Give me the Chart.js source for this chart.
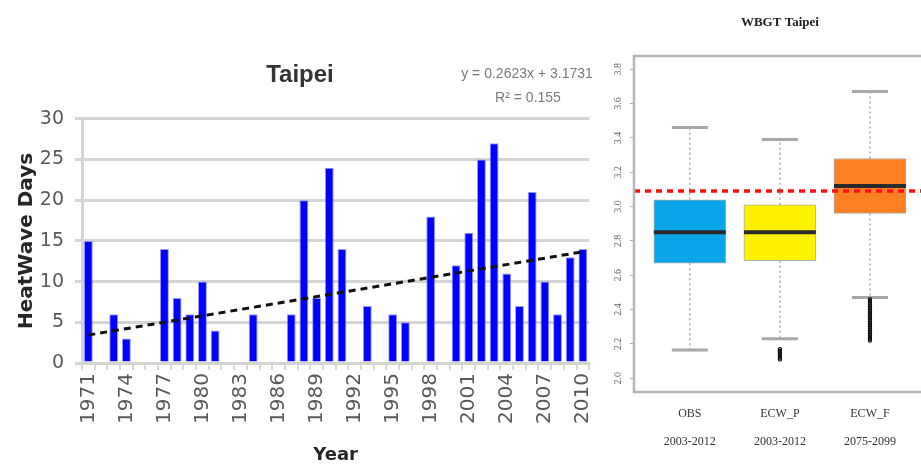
<!DOCTYPE html>
<html>
<head>
<meta charset="utf-8">
<script src="https://cdn.jsdelivr.net/npm/chart.js@4.4.1/dist/chart.umd.min.js"></script>
<style>
  html, body { margin: 0; padding: 0; background: #fff; overflow: hidden; width: 921px; height: 466px; }
  #heatBox { position: absolute; left: 0; top: 0; }
  #wbgtBox { position: absolute; left: 600px; top: 0; }
</style>
</head>
<body>
<div id="heatBox"><canvas id="heat" width="610" height="466"></canvas></div>
<div id="wbgtBox"><canvas id="wbgt" width="331" height="466"></canvas></div>
<script>
// ---- Heat wave days per year, Taipei ----
const years = ['1971','1972','1973','1974','1975','1976','1977','1978','1979','1980',
               '1981','1982','1983','1984','1985','1986','1987','1988','1989','1990',
               '1991','1992','1993','1994','1995','1996','1997','1998','1999','2000',
               '2001','2002','2003','2004','2005','2006','2007','2008','2009','2010'];
const heatwaveDays = [15, 0, 6, 3, 0, 0, 14, 8, 6, 10,
                      4, 0, 0, 6, 0, 0, 6, 20, 8, 24,
                      14, 0, 7, 0, 6, 5, 0, 18, 0, 12,
                      16, 25, 27, 11, 7, 21, 10, 6, 13, 14];
const yTicksDays = [0, 5, 10, 15, 20, 25, 30];

// linear trend as printed on the chart: y = 0.2623x + 3.1731, R² = 0.155
const trendSlope = 0.2623;
const trendIntercept = 3.1731;
const trendR2 = 0.155;

// ---- WBGT distributions, Taipei ----
const boxLabels = [['OBS', '2003-2012'], ['ECW_P', '2003-2012'], ['ECW_F', '2075-2099']];
const boxQ1 = [2.67, 2.685, 2.96];
const boxMedian = [2.85, 2.85, 3.12];
const boxQ3 = [3.04, 3.01, 3.28];
const whiskerLow = [2.165, 2.23, 2.47];
const whiskerHigh = [3.46, 3.39, 3.67];
const outliersEcwP = [2.17, 2.16, 2.155, 2.15, 2.14, 2.13, 2.12, 2.11];
const outliersEcwF = [2.46, 2.45, 2.44, 2.43, 2.42, 2.41, 2.40, 2.39, 2.38, 2.37, 2.36, 2.35, 2.34, 2.33, 2.32, 2.31, 2.30, 2.29, 2.28, 2.27, 2.26, 2.25, 2.24, 2.23, 2.22];
const wbgtThreshold = 3.09;
const wbgtTicks = [2.0, 2.2, 2.4, 2.6, 2.8, 3.0, 3.2, 3.4, 3.6, 3.8];
const boxColors = ['#0aa5e8', '#fff200', '#ff7f24'];

Chart.defaults.font.family = "'DejaVu Sans', sans-serif";
Chart.defaults.animation = false;

// trend line drawn between first and last year
const trendValues = years.map((y, i) =>
  (i === 0 || i === years.length - 1) ? trendSlope * (i + 1) + trendIntercept : null);

const equationText = {
  id: 'equationText',
  afterDraw(chart) {
    const ctx = chart.ctx;
    ctx.save();
    ctx.fillStyle = '#7a7a7a';
    ctx.font = "14px 'Liberation Sans', sans-serif";
    ctx.textAlign = 'center';
    ctx.textBaseline = 'middle';
    ctx.fillText('y = ' + trendSlope.toFixed(4) + 'x + ' + trendIntercept.toFixed(4), 527, 74);
    ctx.fillText('R² = ' + trendR2.toFixed(3), 528, 98);
    ctx.restore();
  }
};

new Chart(document.getElementById('heat'), {
  data: {
    labels: years,
    datasets: [
      {
        type: 'line',
        data: trendValues,
        borderColor: '#111',
        borderWidth: 3,
        borderDash: [7, 5],
        pointRadius: 0,
        spanGaps: true,
        order: 0
      },
      {
        type: 'bar',
        data: heatwaveDays,
        backgroundColor: '#0000ff',
        borderColor: 'rgba(110,110,255,0.7)',
        borderWidth: 1,
        barPercentage: 0.7,
        categoryPercentage: 1,
        order: 1
      }
    ]
  },
  options: {
    responsive: false,
    layout: { padding: { left: 0, right: 10, top: 0, bottom: 0 } },
    plugins: {
      legend: { display: false },
      tooltip: { enabled: false },
      title: {
        display: true,
        text: 'Taipei',
        color: '#333',
        font: { family: "'Liberation Sans', sans-serif", size: 24, weight: 'bold' },
        padding: { top: 61, bottom: 29 }
      }
    },
    scales: {
      x: {
        type: 'category',
        offset: true,
        grid: { display: true, drawOnChartArea: false, drawTicks: true, tickLength: 7, color: '#d9d9d9', lineWidth: 2, offset: true },
        border: { display: true, color: '#d4d4d4', width: 3 },
        ticks: {
          autoSkip: false,
          minRotation: 90,
          maxRotation: 90,
          padding: 3,
          color: '#595959',
          font: { size: 20 },
          callback(v, i) { return i % 3 === 0 ? this.getLabelForValue(v) : ''; }
        },
        title: {
          display: true,
          text: 'Year',
          color: '#262626',
          font: { size: 18, weight: 'bold' },
          padding: { top: 2, bottom: 0 }
        },
        afterFit(s) { s.height = 103; }
      },
      y: {
        min: 0,
        max: 30,
        afterBuildTicks(s) { s.ticks = yTicksDays.map(v => ({ value: v })); },
        ticks: { color: '#595959', font: { size: 19 }, padding: 11 },
        grid: { color: '#d4d4d4', lineWidth: 3, tickLength: 7 },
        border: { color: '#d4d4d4', width: 3 },
        title: {
          display: true,
          text: 'HeatWave Days',
          color: '#262626',
          font: { size: 20, weight: 'bold' },
          padding: { top: 15, bottom: 0 }
        },
        afterFit(s) { s.width = 82; }
      }
    }
  },
  plugins: [equationText]
});

// ---- box plot pieces: whiskers, caps, medians, frame, rotated y labels, title ----
const boxExtras = {
  id: 'boxExtras',
  beforeDatasetsDraw(chart) {
    const { ctx, scales: { x, y } } = chart;
    const bars = chart.getDatasetMeta(0).data;
    ctx.save();
    boxLabels.forEach((lab, i) => {
      const cx = x.getPixelForValue(i + 1);
      const half = bars[i].width / 4;
      // dotted whiskers
      ctx.strokeStyle = '#a8a8a8';
      ctx.lineWidth = 1.5;
      ctx.setLineDash([2, 3]);
      ctx.beginPath();
      ctx.moveTo(cx, y.getPixelForValue(boxQ3[i]));
      ctx.lineTo(cx, y.getPixelForValue(whiskerHigh[i]));
      ctx.moveTo(cx, y.getPixelForValue(boxQ1[i]));
      ctx.lineTo(cx, y.getPixelForValue(whiskerLow[i]));
      ctx.stroke();
      // caps
      ctx.setLineDash([]);
      ctx.strokeStyle = '#a8a8a8';
      ctx.lineWidth = 3;
      ctx.beginPath();
      [whiskerHigh[i], whiskerLow[i]].forEach(v => {
        const py = y.getPixelForValue(v);
        ctx.moveTo(cx - half, py);
        ctx.lineTo(cx + half, py);
      });
      ctx.stroke();
    });
    ctx.restore();
  },
  afterDatasetDraw(chart, args) {
    if (args.index !== 0) return;
    const { ctx, scales: { x, y } } = chart;
    const bars = chart.getDatasetMeta(0).data;
    ctx.save();
    ctx.strokeStyle = '#2a2a2a';
    ctx.lineWidth = 4;
    boxLabels.forEach((lab, i) => {
      const cx = x.getPixelForValue(i + 1);
      const half = bars[i].width / 2;
      const py = y.getPixelForValue(boxMedian[i]);
      ctx.beginPath();
      ctx.moveTo(cx - half, py);
      ctx.lineTo(cx + half, py);
      ctx.stroke();
    });
    ctx.restore();
  },
  afterDraw(chart) {
    const { ctx, chartArea: a, scales: { y } } = chart;
    ctx.save();
    // frame
    ctx.strokeStyle = '#b4b4b4';
    ctx.lineWidth = 2.5;
    ctx.strokeRect(a.left, a.top, a.right - a.left, a.bottom - a.top);
    // rotated y labels
    ctx.fillStyle = '#666';
    ctx.font = "10px 'Liberation Serif', serif";
    ctx.textAlign = 'center';
    ctx.textBaseline = 'middle';
    wbgtTicks.forEach(v => {
      ctx.save();
      ctx.translate(a.left - 16, y.getPixelForValue(v));
      ctx.rotate(-Math.PI / 2);
      ctx.fillText(v.toFixed(1), 0, 0);
      ctx.restore();
    });
    // title
    ctx.fillStyle = '#222';
    ctx.font = "bold 13px 'Liberation Serif', serif";
    ctx.fillText('WBGT Taipei', (a.left + a.right) / 2, 23);
    ctx.restore();
  }
};

const outlierPoints = []
  .concat(outliersEcwP.map(v => ({ x: 2, y: v })))
  .concat(outliersEcwF.map(v => ({ x: 3, y: v })));

new Chart(document.getElementById('wbgt'), {
  type: 'bar',
  data: {
    datasets: [
      {
        type: 'bar',
        data: boxLabels.map((lab, i) => ({ x: i + 1, y: [boxQ1[i], boxQ3[i]] })),
        backgroundColor: boxColors,
        borderColor: 'rgba(70,70,70,0.45)',
        borderWidth: 1,
        borderSkipped: false,
        barThickness: 72,
        order: 3
      },
      {
        type: 'scatter',
        data: outlierPoints,
        pointRadius: 1.6,
        borderColor: '#111',
        borderWidth: 1.2,
        backgroundColor: 'rgba(0,0,0,0)',
        order: 2
      },
      {
        type: 'line',
        data: [{ x: 0.38, y: wbgtThreshold }, { x: 3.62, y: wbgtThreshold }],
        borderColor: '#ff1010',
        borderWidth: 3.5,
        borderDash: [6, 5],
        pointRadius: 0,
        order: 0
      }
    ]
  },
  options: {
    responsive: false,
    layout: { padding: { top: 56, right: 0, left: 0, bottom: 0 } },
    plugins: { legend: { display: false }, tooltip: { enabled: false } },
    scales: {
      x: {
        type: 'linear',
        offset: false,
        min: 0.38,
        max: 3.62,
        afterBuildTicks(s) { s.ticks = boxLabels.map((l, i) => ({ value: i + 1 })); },
        ticks: {
          autoSkip: false,
          maxRotation: 0,
          padding: 7,
          color: '#333',
          font: { family: "'Liberation Serif', serif", size: 12, lineHeight: 2.4 },
          callback(v) { return boxLabels[Math.round(v) - 1]; }
        },
        grid: { display: false, drawTicks: false },
        border: { display: false },
        afterFit(s) { s.height = 74; }
      },
      y: {
        min: 1.92,
        max: 3.877,
        afterBuildTicks(s) { s.ticks = wbgtTicks.map(v => ({ value: v })); },
        ticks: { display: false },
        grid: { drawOnChartArea: false, drawTicks: true, tickLength: 4, color: '#aaa', lineWidth: 1 },
        border: { display: false },
        afterFit(s) { s.width = 34; }
      }
    }
  },
  plugins: [boxExtras]
});
</script>
</body>
</html>
